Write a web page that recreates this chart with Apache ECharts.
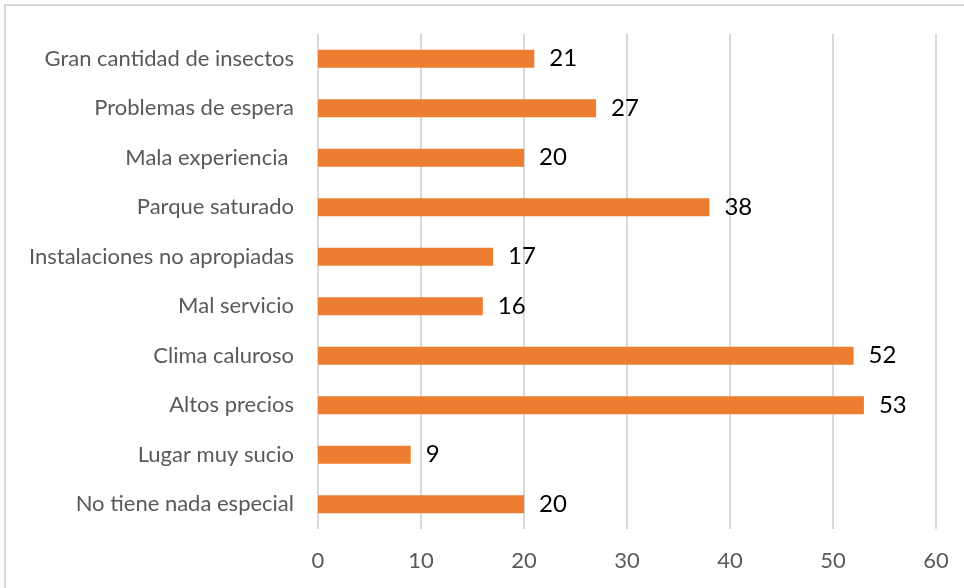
<!DOCTYPE html>
<html>
<head>
<meta charset="utf-8">
<script src="https://cdn.jsdelivr.net/npm/echarts@6/dist/echarts.min.js"></script>
<style>
  body { margin: 0; background: #fff; }
  #chart { width: 964px; height: 588px; }
</style>
</head>
<body>
<div id="chart"></div>
<script>
// categories bottom to top (echarts category axis starts at the bottom)
var motivos = [
  'No tiene nada especial',
  'Lugar muy sucio',
  'Altos precios',
  'Clima caluroso',
  'Mal servicio',
  'Instalaciones no apropiadas',
  'Parque saturado',
  'Mala experiencia ',
  'Problemas de espera',
  'Gran cantidad de insectos'
];
var cantidades = [20, 9, 53, 52, 16, 17, 38, 20, 27, 21];

var fuente = 'Lato';

var myChart = echarts.init(document.getElementById('chart'));
myChart.setOption({
  animation: false,
  backgroundColor: '#fff',
  graphic: [{
    type: 'rect',
    shape: { x: 5, y: 5, width: 1000, height: 700 },
    style: { fill: 'none', stroke: '#d9d9d9', lineWidth: 2 }
  }],
  grid: { left: 318, right: 28, top: 34, bottom: 59, containLabel: false },
  xAxis: {
    type: 'value',
    min: 0,
    max: 60,
    interval: 10,
    axisLine: { show: false },
    axisTick: { show: false },
    splitLine: { lineStyle: { color: '#d9d9d9', width: 2 } },
    axisLabel: { color: '#595959', fontFamily: fuente, fontSize: 22, margin: 21 }
  },
  yAxis: {
    type: 'category',
    data: motivos,
    axisLine: { show: false },
    axisTick: { show: false },
    axisLabel: { color: '#595959', fontFamily: fuente, fontSize: 22, margin: 24 }
  },
  series: [{
    type: 'bar',
    data: cantidades,
    barWidth: 18,
    itemStyle: { color: '#ED7D31' },
    label: {
      show: true,
      position: 'right',
      distance: 15,
      color: '#000',
      fontFamily: fuente,
      fontSize: 24
    }
  }]
});
</script>
</body>
</html>
